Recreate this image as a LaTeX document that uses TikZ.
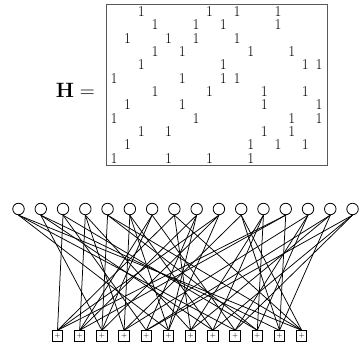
\documentclass[tikz,border=0pt]{standalone}
\usetikzlibrary{positioning}
\begin{document}
\begin{tikzpicture}[x=1pt, y=-1pt,
  vnode/.style={draw, circle, inner sep=0pt, minimum size=11.5pt, line width=0.8pt},
  cnode/.style={draw, rectangle, inner sep=0pt, minimum size=10.5pt, line width=0.9pt, font=\fontsize{7}{7}\selectfont},
  one/.style={inner sep=0pt, font=\fontsize{15}{15}\selectfont},
  edge/.style={line width=0.75pt}]
\useasboundingbox (0,0) rectangle (360,345);
% parity-check matrix
\node[draw=black!65, line width=1pt, minimum width=221pt, minimum height=161pt, inner sep=0pt] (hbox) at (217.5,85.5) {};
\node[font=\fontsize{22}{26}\selectfont, anchor=east, inner sep=0pt] (hlabel) at (95,90) {$\mathbf{H} =$};
\foreach \r/\cols in {0/{2,7,9,12}, 1/{3,6,8,12}, 2/{1,4,6,9}, 3/{3,5,10,13},
    4/{2,8,14,15}, 5/{0,5,8,9}, 6/{3,7,11,14}, 7/{1,5,11,15},
    8/{0,6,13,15}, 9/{2,4,11,13}, 10/{1,10,12,14}, 11/{0,4,7,10}}{
  \foreach \c in \cols
    \node[one] (h\r-\c) at ({114+13.67*\c},{11.5+13.35*\r}) {1};
}
% Tanner graph
\foreach \j in {0,...,15}
  \node[vnode] (v\j) at ({18.5+22.27*\j},209) {};
\foreach \i in {0,...,11}
  \node[cnode] (c\i) at ({57.5+22.2*\i},336) {$+$};
\foreach \r/\cols in {0/{2,7,9,12}, 1/{3,6,8,12}, 2/{1,4,6,9}, 3/{3,5,10,13},
    4/{2,8,14,15}, 5/{0,5,8,9}, 6/{3,7,11,14}, 7/{1,5,11,15},
    8/{0,6,13,15}, 9/{2,4,11,13}, 10/{1,10,12,14}, 11/{0,4,7,10}}{
  \foreach \c in \cols
    \draw[edge] (v\c.south) -- (c\r.north);
}
\end{tikzpicture}
\end{document}
